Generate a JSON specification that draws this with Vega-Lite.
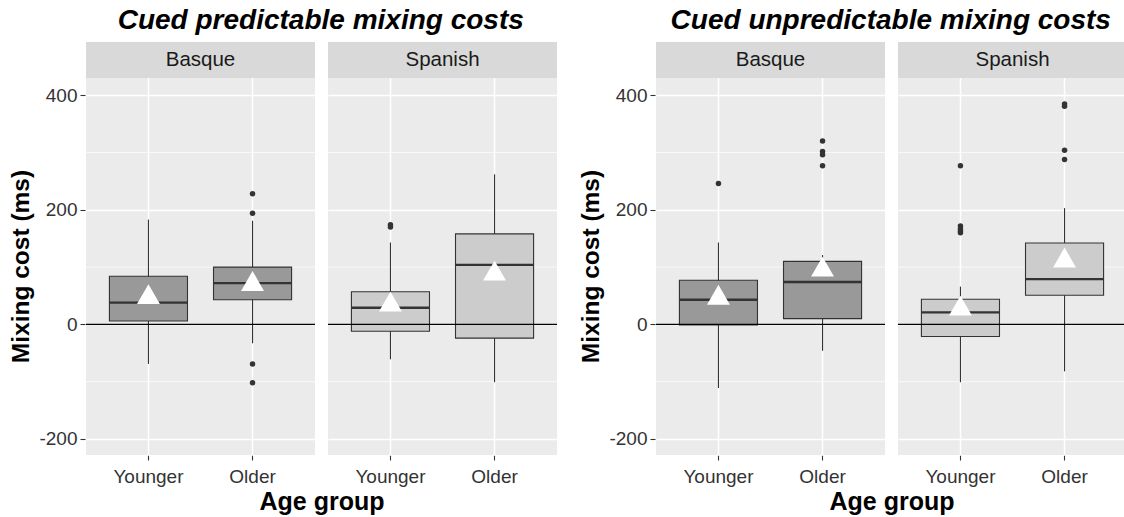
{
  "$schema": "https://vega.github.io/schema/vega-lite/v6.json",
  "padding": {"left": 8, "top": 7, "right": 0, "bottom": 0},
  "background": "white",
  "datasets": {
    "pred": [
      {"kind": "strip", "language": "Basque"},
      {"kind": "strip", "language": "Spanish"},
      {"kind": "box", "language": "Basque", "age": "Younger", "lower": -69, "q1": 6, "median": 38, "q3": 84, "upper": 183, "mean": 47},
      {"kind": "box", "language": "Basque", "age": "Older", "lower": -33, "q1": 43, "median": 72, "q3": 100, "upper": 181, "mean": 70},
      {"kind": "box", "language": "Spanish", "age": "Younger", "lower": -61, "q1": -12, "median": 29, "q3": 57, "upper": 143, "mean": 34},
      {"kind": "box", "language": "Spanish", "age": "Older", "lower": -101, "q1": -24, "median": 104, "q3": 158, "upper": 262, "mean": 88},
      {"kind": "out", "language": "Basque", "age": "Older", "value": 228},
      {"kind": "out", "language": "Basque", "age": "Older", "value": 194},
      {"kind": "out", "language": "Basque", "age": "Older", "value": -69},
      {"kind": "out", "language": "Basque", "age": "Older", "value": -102},
      {"kind": "out", "language": "Spanish", "age": "Younger", "value": 174},
      {"kind": "out", "language": "Spanish", "age": "Younger", "value": 170}
    ],
    "unpred": [
      {"kind": "strip", "language": "Basque"},
      {"kind": "strip", "language": "Spanish"},
      {"kind": "box", "language": "Basque", "age": "Younger", "lower": -111, "q1": -1, "median": 43, "q3": 77, "upper": 143, "mean": 46},
      {"kind": "box", "language": "Basque", "age": "Older", "lower": -46, "q1": 10, "median": 74, "q3": 110, "upper": 121, "mean": 95},
      {"kind": "box", "language": "Spanish", "age": "Younger", "lower": -101, "q1": -21, "median": 21, "q3": 44, "upper": 66, "mean": 27},
      {"kind": "box", "language": "Spanish", "age": "Older", "lower": -82, "q1": 51, "median": 79, "q3": 142, "upper": 203, "mean": 111},
      {"kind": "out", "language": "Basque", "age": "Younger", "value": 246},
      {"kind": "out", "language": "Basque", "age": "Older", "value": 320},
      {"kind": "out", "language": "Basque", "age": "Older", "value": 302},
      {"kind": "out", "language": "Basque", "age": "Older", "value": 296},
      {"kind": "out", "language": "Basque", "age": "Older", "value": 277},
      {"kind": "out", "language": "Spanish", "age": "Younger", "value": 277},
      {"kind": "out", "language": "Spanish", "age": "Younger", "value": 172},
      {"kind": "out", "language": "Spanish", "age": "Younger", "value": 167},
      {"kind": "out", "language": "Spanish", "age": "Younger", "value": 163},
      {"kind": "out", "language": "Spanish", "age": "Younger", "value": 160},
      {"kind": "out", "language": "Spanish", "age": "Older", "value": 385},
      {"kind": "out", "language": "Spanish", "age": "Older", "value": 381},
      {"kind": "out", "language": "Spanish", "age": "Older", "value": 304},
      {"kind": "out", "language": "Spanish", "age": "Older", "value": 288}
    ]
  },
  "spacing": 20,
  "hconcat": [
    {
      "data": {"name": "pred"},
      "title": {"text": "Cued predictable mixing costs", "font": "Liberation Sans", "fontSize": 28, "fontWeight": "bold", "fontStyle": "italic", "color": "#000000", "anchor": "middle", "dx": 38, "offset": 7},
      "facet": {
        "column": {"field": "language", "type": "nominal", "title": "Age group",
          "header": {"labels": false, "titleOrient": "bottom", "titleFont": "Liberation Sans", "titleFontSize": 25, "titleFontWeight": "bold", "titleColor": "#000000", "titlePadding": -6}}
      },
      "spacing": 11,
      "spec": {
        "width": 229,
        "height": 413,
        "layer": [
          {"transform": [{"filter": "datum.kind === 'strip'"}], "mark": {"type": "rule", "color": "#FFFFFF", "strokeWidth": 0.7}, "encoding": {"y": {"datum": -100, "type": "quantitative", "title": "Mixing cost (ms)", "scale": {"domain": [-228, 493], "nice": false, "zero": false}}}},
          {"transform": [{"filter": "datum.kind === 'strip'"}], "mark": {"type": "rule", "color": "#FFFFFF", "strokeWidth": 0.7}, "encoding": {"y": {"datum": 100, "type": "quantitative", "title": "Mixing cost (ms)"}}},
          {"transform": [{"filter": "datum.kind === 'strip'"}], "mark": {"type": "rule", "color": "#FFFFFF", "strokeWidth": 0.7}, "encoding": {"y": {"datum": 300, "type": "quantitative", "title": "Mixing cost (ms)"}}},
          {"transform": [{"filter": "datum.kind === 'box'"}], "mark": {"type": "rule", "color": "#333333", "strokeWidth": 1.1},
           "encoding": {
             "x": {"field": "age", "type": "nominal", "title": null, "sort": ["Younger", "Older"], "scale": {"domain": ["Younger", "Older"], "paddingInner": 0.25, "paddingOuter": 0.225}},
             "y": {"field": "lower", "type": "quantitative", "title": "Mixing cost (ms)", "axis": {"values": [-200, 0, 200, 400], "labelExpr": "datum.value < 0 ? '-' + abs(datum.value) : '' + datum.value", "titleY": 224}},
             "y2": {"field": "upper"}}},
          {"transform": [{"filter": "datum.kind === 'box'"}], "mark": {"type": "bar", "stroke": "#333333", "strokeWidth": 1.1},
           "encoding": {
             "x": {"field": "age", "type": "nominal", "title": null, "sort": ["Younger", "Older"]},
             "y": {"field": "q1", "type": "quantitative", "title": "Mixing cost (ms)"},
             "y2": {"field": "q3"},
             "fill": {"field": "language", "type": "nominal", "scale": {"domain": ["Basque", "Spanish"], "range": ["#999999", "#CCCCCC"]}, "legend": null}}},
          {"transform": [{"filter": "datum.kind === 'box'"}], "mark": {"type": "tick", "thickness": 2.4, "color": "#333333", "opacity": 1},
           "encoding": {
             "x": {"field": "age", "type": "nominal", "title": null, "sort": ["Younger", "Older"]},
             "y": {"field": "median", "type": "quantitative", "title": "Mixing cost (ms)"}}},
          {"transform": [{"filter": "datum.kind === 'out'"}], "mark": {"type": "circle", "color": "#333333", "size": 30, "opacity": 1},
           "encoding": {
             "x": {"field": "age", "type": "nominal", "title": null, "sort": ["Younger", "Older"]},
             "y": {"field": "value", "type": "quantitative", "title": "Mixing cost (ms)"}}},
          {"transform": [{"filter": "datum.kind === 'strip'"}], "mark": {"type": "rule", "color": "#000000", "strokeWidth": 1.1}, "encoding": {"y": {"datum": 0, "type": "quantitative", "title": "Mixing cost (ms)"}}},
          {"transform": [{"filter": "datum.kind === 'box'"}], "mark": {"type": "point", "shape": "M0,-1L0.866,0.5L-0.866,0.5Z", "filled": true, "fill": "#FFFFFF", "strokeWidth": 0, "size": 700, "opacity": 1},
           "encoding": {
             "x": {"field": "age", "type": "nominal", "title": null, "sort": ["Younger", "Older"]},
             "y": {"field": "mean", "type": "quantitative", "title": "Mixing cost (ms)"}}},
          {"transform": [{"filter": "datum.kind === 'strip'"}], "mark": {"type": "rect", "fill": "#D9D9D9"}, "encoding": {"y": {"datum": 430.2, "type": "quantitative", "title": "Mixing cost (ms)"}, "y2": {"datum": 493}}},
          {"transform": [{"filter": "datum.kind === 'strip'"}], "mark": {"type": "text", "font": "Liberation Sans", "fontSize": 20.5, "color": "#1A1A1A", "baseline": "middle"}, "encoding": {"y": {"datum": 461.6, "type": "quantitative", "title": "Mixing cost (ms)"}, "text": {"field": "language"}}}
        ]
      }
    },
    {
      "data": {"name": "unpred"},
      "title": {"text": "Cued unpredictable mixing costs", "font": "Liberation Sans", "fontSize": 28, "fontWeight": "bold", "fontStyle": "italic", "color": "#000000", "anchor": "middle", "dx": 38, "offset": 7},
      "facet": {
        "column": {"field": "language", "type": "nominal", "title": "Age group",
          "header": {"labels": false, "titleOrient": "bottom", "titleFont": "Liberation Sans", "titleFontSize": 25, "titleFontWeight": "bold", "titleColor": "#000000", "titlePadding": -6}}
      },
      "spacing": 11,
      "spec": {
        "width": 229,
        "height": 413,
        "layer": [
          {"transform": [{"filter": "datum.kind === 'strip'"}], "mark": {"type": "rule", "color": "#FFFFFF", "strokeWidth": 0.7}, "encoding": {"y": {"datum": -100, "type": "quantitative", "title": "Mixing cost (ms)", "scale": {"domain": [-228, 493], "nice": false, "zero": false}}}},
          {"transform": [{"filter": "datum.kind === 'strip'"}], "mark": {"type": "rule", "color": "#FFFFFF", "strokeWidth": 0.7}, "encoding": {"y": {"datum": 100, "type": "quantitative", "title": "Mixing cost (ms)"}}},
          {"transform": [{"filter": "datum.kind === 'strip'"}], "mark": {"type": "rule", "color": "#FFFFFF", "strokeWidth": 0.7}, "encoding": {"y": {"datum": 300, "type": "quantitative", "title": "Mixing cost (ms)"}}},
          {"transform": [{"filter": "datum.kind === 'box'"}], "mark": {"type": "rule", "color": "#333333", "strokeWidth": 1.1},
           "encoding": {
             "x": {"field": "age", "type": "nominal", "title": null, "sort": ["Younger", "Older"], "scale": {"domain": ["Younger", "Older"], "paddingInner": 0.25, "paddingOuter": 0.225}},
             "y": {"field": "lower", "type": "quantitative", "title": "Mixing cost (ms)", "axis": {"values": [-200, 0, 200, 400], "labelExpr": "datum.value < 0 ? '-' + abs(datum.value) : '' + datum.value", "titleY": 224}},
             "y2": {"field": "upper"}}},
          {"transform": [{"filter": "datum.kind === 'box'"}], "mark": {"type": "bar", "stroke": "#333333", "strokeWidth": 1.1},
           "encoding": {
             "x": {"field": "age", "type": "nominal", "title": null, "sort": ["Younger", "Older"]},
             "y": {"field": "q1", "type": "quantitative", "title": "Mixing cost (ms)"},
             "y2": {"field": "q3"},
             "fill": {"field": "language", "type": "nominal", "scale": {"domain": ["Basque", "Spanish"], "range": ["#999999", "#CCCCCC"]}, "legend": null}}},
          {"transform": [{"filter": "datum.kind === 'box'"}], "mark": {"type": "tick", "thickness": 2.4, "color": "#333333", "opacity": 1},
           "encoding": {
             "x": {"field": "age", "type": "nominal", "title": null, "sort": ["Younger", "Older"]},
             "y": {"field": "median", "type": "quantitative", "title": "Mixing cost (ms)"}}},
          {"transform": [{"filter": "datum.kind === 'out'"}], "mark": {"type": "circle", "color": "#333333", "size": 30, "opacity": 1},
           "encoding": {
             "x": {"field": "age", "type": "nominal", "title": null, "sort": ["Younger", "Older"]},
             "y": {"field": "value", "type": "quantitative", "title": "Mixing cost (ms)"}}},
          {"transform": [{"filter": "datum.kind === 'strip'"}], "mark": {"type": "rule", "color": "#000000", "strokeWidth": 1.1}, "encoding": {"y": {"datum": 0, "type": "quantitative", "title": "Mixing cost (ms)"}}},
          {"transform": [{"filter": "datum.kind === 'box'"}], "mark": {"type": "point", "shape": "M0,-1L0.866,0.5L-0.866,0.5Z", "filled": true, "fill": "#FFFFFF", "strokeWidth": 0, "size": 700, "opacity": 1},
           "encoding": {
             "x": {"field": "age", "type": "nominal", "title": null, "sort": ["Younger", "Older"]},
             "y": {"field": "mean", "type": "quantitative", "title": "Mixing cost (ms)"}}},
          {"transform": [{"filter": "datum.kind === 'strip'"}], "mark": {"type": "rect", "fill": "#D9D9D9"}, "encoding": {"y": {"datum": 430.2, "type": "quantitative", "title": "Mixing cost (ms)"}, "y2": {"datum": 493}}},
          {"transform": [{"filter": "datum.kind === 'strip'"}], "mark": {"type": "text", "font": "Liberation Sans", "fontSize": 20.5, "color": "#1A1A1A", "baseline": "middle"}, "encoding": {"y": {"datum": 461.6, "type": "quantitative", "title": "Mixing cost (ms)"}, "text": {"field": "language"}}}
        ]
      }
    }
  ],
  "config": {
    "font": "Liberation Sans",
    "view": {"fill": "#EBEBEB", "stroke": null},
    "axis": {"domain": false, "tickColor": "#333333", "tickWidth": 1.1, "tickSize": 5, "labelFont": "Liberation Sans", "labelFontSize": 19, "labelColor": "#333333", "grid": true, "gridColor": "#FFFFFF", "gridWidth": 1.5, "gridOpacity": 1, "titleFont": "Liberation Sans", "titleFontSize": 24.5, "titleFontWeight": "bold", "titleColor": "#000000"},
    "axisX": {"labelPadding": 7, "bandPosition": 0.5, "labelAngle": 0},
    "axisY": {"labelPadding": 3, "titlePadding": 4, "minExtent": 48, "maxExtent": 48}
  }
}
